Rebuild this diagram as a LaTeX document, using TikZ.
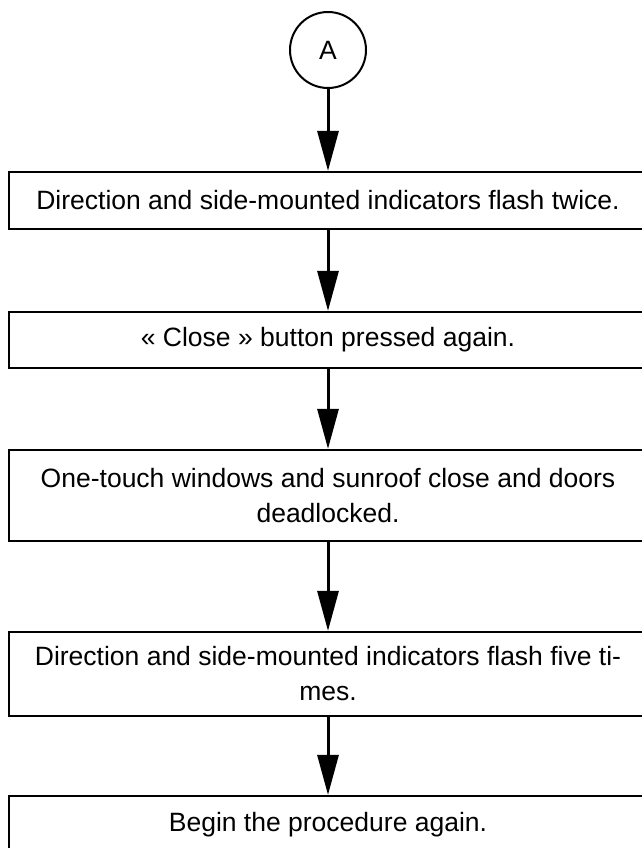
\documentclass[tikz,border=0pt]{standalone}
\usepackage{fontspec}
\setmainfont{Liberation Sans}
\usetikzlibrary{arrows.meta}
\begin{document}
\begin{tikzpicture}[x=1pt,y=-1pt,
  stepbox/.style={draw,line width=2.2pt,minimum width=638pt,align=center,font=\fontsize{26.5}{35}\selectfont,inner sep=0pt},
  conn/.style={line width=3pt,-{Triangle[length=40pt,width=21pt]}},
  startc/.style={draw,circle,line width=2pt,minimum size=76pt,inner sep=0pt,font=\fontsize{26.5}{30}\selectfont}]
\useasboundingbox (0,0) rectangle (642,848);
\clip (0,0) rectangle (642,848);
\node[startc] (a) at (328,50) {A};
\node[stepbox,minimum height=57pt] (b1) at (328,200.5) {Direction and side-mounted indicators flash twice.};
\node[stepbox,minimum height=56pt] (b2) at (328,340) {« Close » button pressed again.};
\node[stepbox,minimum height=91pt] (b3) at (328,495.5) {One-touch windows and sunroof close and doors\\deadlocked.};
\node[stepbox,minimum height=84pt] (b4) at (328,674) {Direction and side-mounted indicators flash five ti-\\mes.};
\node[stepbox,minimum height=57pt] (b5) at (328,824.5) {Begin the procedure again.};
\draw[conn] (a.south) -- (b1.north);
\draw[conn] (b1.south) -- (b2.north);
\draw[conn] (b2.south) -- (b3.north);
\draw[conn] (b3.south) -- (b4.north);
\draw[conn] (b4.south) -- (b5.north);
\end{tikzpicture}
\end{document}
